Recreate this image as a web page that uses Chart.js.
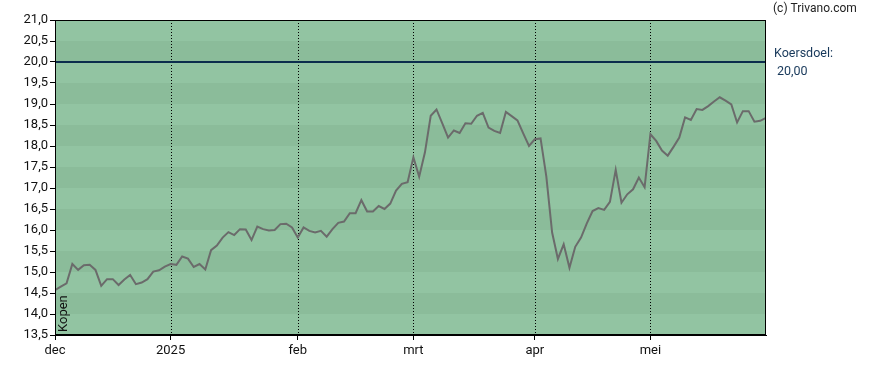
<!DOCTYPE html>
<html>
<head>
<meta charset="utf-8">
<script src="https://cdn.jsdelivr.net/npm/chart.js@4/dist/chart.umd.min.js"></script>
<style>
  html, body { margin: 0; padding: 0; background: #ffffff; }
  #wrap { width: 888px; height: 370px; }
</style>
</head>
<body>
<div id="wrap"><canvas id="c" width="888" height="370"></canvas></div>
<script>
// ---- data (one point per trading day, Dec 2024 - May 2025) ----
const monthTickIndex = [0, 20, 42, 62, 83, 103];
const monthLabels = ['dec', '2025', 'feb', 'mrt', 'apr', 'mei'];
const lastIndex = 123;

const decPrices = [14.57, 14.65, 14.73, 15.19, 15.05, 15.16, 15.17, 15.05, 14.67, 14.83,
                   14.83, 14.69, 14.82, 14.93, 14.71, 14.75, 14.83, 15.01, 15.04, 15.13];
const janPrices = [15.19, 15.17, 15.37, 15.32, 15.12, 15.19, 15.06, 15.52, 15.63, 15.82,
                   15.95, 15.88, 16.02, 16.01, 15.76, 16.08, 16.02, 15.99, 16.00, 16.14,
                   16.15, 16.06];
const febPrices = [15.82, 16.06, 15.98, 15.94, 15.98, 15.84, 16.02, 16.17, 16.20, 16.40,
                   16.40, 16.71, 16.44, 16.44, 16.57, 16.50, 16.63, 16.94, 17.10, 17.14];
const mrtPrices = [17.73, 17.27, 17.85, 18.72, 18.87, 18.54, 18.20, 18.37, 18.31, 18.54,
                   18.53, 18.72, 18.79, 18.44, 18.36, 18.31, 18.81, 18.71, 18.61, 18.30,
                   18.00];
const aprPrices = [18.16, 18.18, 17.27, 15.94, 15.31, 15.66, 15.10, 15.60, 15.82, 16.16,
                   16.45, 16.52, 16.48, 16.67, 17.43, 16.65, 16.85, 16.97, 17.25, 17.02];
const meiPrices = [18.28, 18.12, 17.89, 17.77, 17.98, 18.20, 18.68, 18.62, 18.88, 18.86,
                   18.95, 19.06, 19.16, 19.08, 18.99, 18.56, 18.83, 18.83, 18.58, 18.60,
                   18.67];

const prices = [].concat(decPrices, janPrices, febPrices, mrtPrices, aprPrices, meiPrices);
const koersdoel = 20.0;

const yMin = 13.5, yMax = 21.0, yStep = 0.5;

const fmt = v => v.toFixed(1).replace('.', ',');
const FONT = 'Roboto, "Liberation Sans", Arial, sans-serif';

const decorPlugin = {
  id: 'decor',
  beforeDraw(chart) {
    const { ctx, chartArea: a, scales } = chart;
    const y = scales.y;
    ctx.save();
    for (let v = yMin; v < yMax - 1e-9; v += yStep) {
      const top = y.getPixelForValue(v + yStep);
      const bot = y.getPixelForValue(v);
      const isDark = Math.abs(v - Math.round(v)) < 1e-6;
      ctx.fillStyle = isDark ? '#8bbc9a' : '#92c4a2';
      ctx.fillRect(a.left, top, a.right - a.left, bot - top);
    }
    ctx.restore();
  },
  beforeDatasetsDraw(chart) {
    const { ctx, chartArea: a, scales } = chart;
    const x = scales.x;
    ctx.save();
    ctx.strokeStyle = '#000';
    ctx.lineWidth = 1;
    ctx.setLineDash([1, 2]);
    monthTickIndex.forEach(i => {
      if (i === 0) return;
      const px = Math.round(x.getPixelForValue(i)) + 0.5;
      ctx.beginPath();
      ctx.moveTo(px, a.top);
      ctx.lineTo(px, a.bottom);
      ctx.stroke();
    });
    ctx.restore();
  },
  afterDraw(chart) {
    const { ctx, chartArea: a } = chart;
    ctx.save();
    ctx.strokeStyle = '#000';
    ctx.lineWidth = 1;
    ctx.strokeRect(Math.round(a.left) + 0.5, Math.round(a.top) + 0.5,
                   Math.round(a.right - a.left) - 1, Math.round(a.bottom - a.top) - 1);

    ctx.fillStyle = '#222';
    ctx.font = '12px ' + FONT;
    ctx.textBaseline = 'middle';
    ctx.textAlign = 'left';
    ctx.fillText('(c) Trivano.com', 773, 9);

    ctx.fillStyle = '#17385a';
    ctx.font = '12.5px ' + FONT;
    ctx.fillText('Koersdoel:', 774, 54);
    ctx.fillText(koersdoel.toFixed(2).replace('.', ','), 777, 72);

    ctx.fillStyle = '#111';
    ctx.font = '13px ' + FONT;
    ctx.translate(64, 332);
    ctx.rotate(-Math.PI / 2);
    ctx.textAlign = 'left';
    ctx.textBaseline = 'middle';
    ctx.fillText('Kopen', 0, 0);
    ctx.restore();
  }
};

new Chart(document.getElementById('c'), {
  type: 'line',
  data: {
    datasets: [
      {
        data: prices.map((v, i) => ({ x: i, y: v })),
        borderColor: '#6b6b6b',
        borderWidth: 2,
        pointRadius: 0,
        tension: 0,
        fill: false
      },
      {
        data: [{ x: 0, y: koersdoel }, { x: lastIndex, y: koersdoel }],
        borderColor: '#0b2d4d',
        borderWidth: 2,
        pointRadius: 0,
        fill: false
      }
    ]
  },
  options: {
    responsive: false,
    animation: false,
    devicePixelRatio: 1,
    layout: { padding: { left: 0, right: 122, top: 20, bottom: 0 } },
    plugins: { legend: { display: false }, tooltip: { enabled: false } },
    scales: {
      x: {
        type: 'linear',
        min: 0,
        max: lastIndex,
        afterBuildTicks: axis => { axis.ticks = monthTickIndex.map(v => ({ value: v })); },
        afterFit: s => { s.height = 35; },
        ticks: {
          autoSkip: false,
          maxRotation: 0,
          padding: 3,
          color: '#111',
          font: { family: FONT, size: 13 },
          callback: v => monthLabels[monthTickIndex.indexOf(v)]
        },
        grid: { display: true, drawOnChartArea: false, drawTicks: true, tickLength: 5, color: '#000' },
        border: { display: true, color: '#000' }
      },
      y: {
        min: yMin,
        max: yMax,
        afterFit: s => { s.width = 55; },
        ticks: {
          stepSize: yStep,
          padding: 2,
          color: '#111',
          font: { family: FONT, size: 13 },
          callback: v => fmt(v)
        },
        grid: { display: true, drawOnChartArea: false, drawTicks: true, tickLength: 5, color: '#000' },
        border: { display: true, color: '#000' }
      }
    }
  },
  plugins: [decorPlugin]
});
</script>
</body>
</html>
